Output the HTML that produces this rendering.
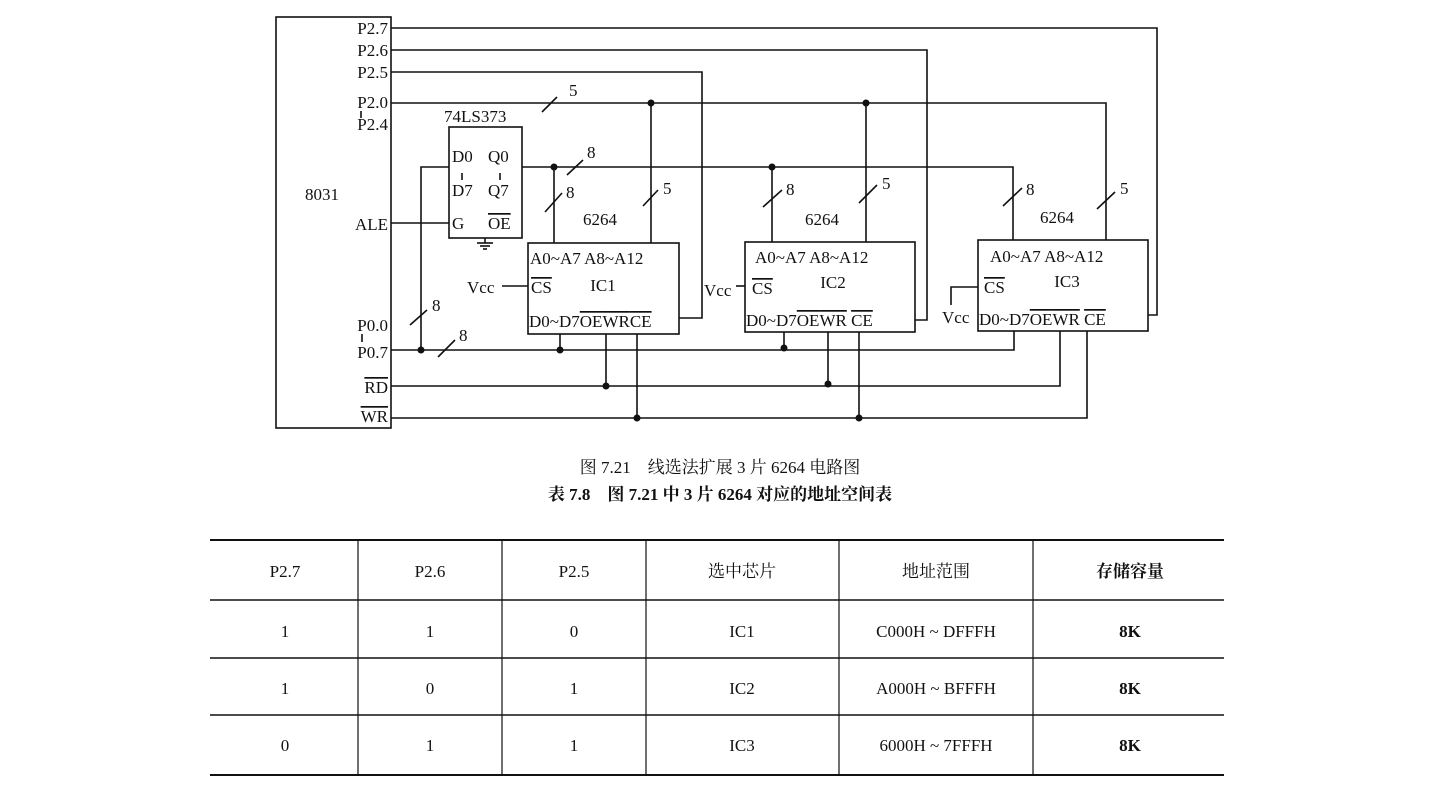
<!DOCTYPE html>
<html><head><meta charset="utf-8"><style>
html,body{margin:0;padding:0;background:#fff;width:1435px;height:795px;overflow:hidden}
svg{display:block}
text{font-family:"Liberation Serif","Noto Serif CJK SC",serif;fill:#111}
.t{font-size:17px}
.o{text-decoration:overline}
</style></head><body>
<svg width="1435" height="795" viewBox="0 0 1435 795" xmlns="http://www.w3.org/2000/svg">
<g stroke="#111" stroke-width="1.6" fill="none">
<rect x="276" y="17" width="115" height="411"/>
<rect x="449" y="127" width="73" height="111"/>
<rect x="528" y="243" width="151" height="91"/>
<rect x="745" y="242" width="170" height="90"/>
<rect x="978" y="240" width="170" height="91"/>
<polyline points="391,28 1157,28 1157,315 1148,315"/>
<polyline points="391,50 927,50 927,320 915,320"/>
<polyline points="391,72 702,72 702,318 679,318"/>
<polyline points="391,103 1106,103 1106,240"/>
<line x1="651" y1="103" x2="651" y2="243"/>
<line x1="866" y1="103" x2="866" y2="242"/>
<polyline points="522,167 1013,167 1013,240"/>
<line x1="554" y1="167" x2="554" y2="243"/>
<line x1="772" y1="167" x2="772" y2="242"/>
<polyline points="449,167 421,167 421,350"/>
<line x1="391" y1="223" x2="449" y2="223"/>
<line x1="485" y1="238" x2="485" y2="243"/>
<line x1="477" y1="243" x2="493" y2="243"/>
<line x1="480" y1="246" x2="490" y2="246"/>
<line x1="483" y1="249" x2="487" y2="249"/>
<polyline points="391,350 1014,350 1014,331"/>
<line x1="560" y1="334" x2="560" y2="350"/>
<line x1="784" y1="332" x2="784" y2="350"/>
<polyline points="391,386 1060,386 1060,331"/>
<line x1="606" y1="334" x2="606" y2="386"/>
<line x1="828" y1="332" x2="828" y2="386"/>
<polyline points="391,418 1087,418 1087,331"/>
<line x1="637" y1="334" x2="637" y2="418"/>
<line x1="859" y1="332" x2="859" y2="418"/>
<line x1="502" y1="286" x2="528" y2="286"/>
<line x1="736" y1="286" x2="745" y2="286"/>
<polyline points="978,287 951,287 951,305"/>
<line x1="542" y1="112" x2="557" y2="97"/>
<line x1="567" y1="175" x2="583" y2="160"/>
<line x1="545" y1="212" x2="562" y2="193"/>
<line x1="643" y1="206" x2="658" y2="190"/>
<line x1="410" y1="325" x2="427" y2="310"/>
<line x1="438" y1="357" x2="455" y2="340"/>
<line x1="763" y1="207" x2="782" y2="190"/>
<line x1="859" y1="203" x2="877" y2="185"/>
<line x1="1003" y1="206" x2="1022" y2="188"/>
<line x1="1097" y1="209" x2="1115" y2="192"/>
<line x1="361" y1="111" x2="361" y2="118"/>
<line x1="362" y1="334" x2="362" y2="342"/>
<line x1="462" y1="173" x2="462" y2="180"/>
<line x1="500" y1="173" x2="500" y2="180"/>
</g>
<g fill="#111">
<circle cx="651" cy="103" r="3.5"/><circle cx="866" cy="103" r="3.5"/>
<circle cx="554" cy="167" r="3.5"/><circle cx="772" cy="167" r="3.5"/>
<circle cx="421" cy="350" r="3.5"/><circle cx="560" cy="350" r="3.5"/><circle cx="784" cy="348" r="3.5"/>
<circle cx="606" cy="386" r="3.5"/><circle cx="828" cy="384" r="3.5"/>
<circle cx="637" cy="418" r="3.5"/><circle cx="859" cy="418" r="3.5"/>
</g>
<g class="t">
<text x="388" y="34" text-anchor="end">P2.7</text>
<text x="388" y="56" text-anchor="end">P2.6</text>
<text x="388" y="78" text-anchor="end">P2.5</text>
<text x="388" y="108" text-anchor="end">P2.0</text>
<text x="388" y="130" text-anchor="end">P2.4</text>
<text x="305" y="200">8031</text>
<text x="388" y="230" text-anchor="end">ALE</text>
<text x="388" y="331" text-anchor="end">P0.0</text>
<text x="388" y="358" text-anchor="end">P0.7</text>
<text x="388" y="393" text-anchor="end" class="o">RD</text>
<text x="388" y="422" text-anchor="end" class="o">WR</text>
<text x="444" y="122">74LS373</text>
<text x="452" y="162">D0</text><text x="488" y="162">Q0</text>
<text x="452" y="196">D7</text><text x="488" y="196">Q7</text>
<text x="452" y="229">G</text><text x="488" y="229" class="o">OE</text>
<text x="569" y="96">5</text>
<text x="587" y="158">8</text>
<text x="566" y="198">8</text>
<text x="663" y="194">5</text>
<text x="432" y="311">8</text>
<text x="459" y="341">8</text>
<text x="786" y="195">8</text>
<text x="882" y="189">5</text>
<text x="1026" y="195">8</text>
<text x="1120" y="194">5</text>
<text x="600" y="225" text-anchor="middle">6264</text>
<text x="822" y="225" text-anchor="middle">6264</text>
<text x="1057" y="223" text-anchor="middle">6264</text>
<text x="530" y="264">A0~A7 A8~A12</text>
<text x="603" y="291" text-anchor="middle">IC1</text>
<text x="531" y="293" class="o">CS</text>
<text x="529" y="327">D0~D7<tspan class="o">OE</tspan><tspan class="o">WR</tspan><tspan class="o">CE</tspan></text>
<text x="467" y="293">Vcc</text>
<text x="755" y="263">A0~A7 A8~A12</text>
<text x="833" y="288" text-anchor="middle">IC2</text>
<text x="752" y="294" class="o">CS</text>
<text x="746" y="326">D0~D7<tspan class="o">OE</tspan><tspan class="o">WR</tspan> <tspan class="o">CE</tspan></text>
<text x="704" y="296">Vcc</text>
<text x="990" y="262">A0~A7 A8~A12</text>
<text x="1067" y="287" text-anchor="middle">IC3</text>
<text x="984" y="293" class="o">CS</text>
<text x="979" y="325">D0~D7<tspan class="o">OE</tspan><tspan class="o">WR</tspan> <tspan class="o">CE</tspan></text>
<text x="942" y="323">Vcc</text>
</g>
<text x="720" y="473" text-anchor="middle" style="font-size:17px">图 7.21　线选法扩展 3 片 6264 电路图</text>
<text x="720" y="500" text-anchor="middle" style="font-size:17px;font-weight:bold">表 7.8　图 7.21 中 3 片 6264 对应的地址空间表</text>
<g stroke="#111" fill="none">
<line x1="210" y1="540" x2="1224" y2="540" stroke-width="2"/>
<line x1="210" y1="600" x2="1224" y2="600" stroke-width="1.5"/>
<line x1="210" y1="658" x2="1224" y2="658" stroke-width="1.5"/>
<line x1="210" y1="715" x2="1224" y2="715" stroke-width="1.5"/>
<line x1="210" y1="775" x2="1224" y2="775" stroke-width="2"/>
<g stroke-width="1.2">
<line x1="358" y1="540" x2="358" y2="775"/>
<line x1="502" y1="540" x2="502" y2="775"/>
<line x1="646" y1="540" x2="646" y2="775"/>
<line x1="839" y1="540" x2="839" y2="775"/>
<line x1="1033" y1="540" x2="1033" y2="775"/>
</g>
</g>
<g style="font-size:17px" text-anchor="middle">
<text x="285" y="577">P2.7</text><text x="430" y="577">P2.6</text><text x="574" y="577">P2.5</text>
<text x="742" y="577">选中芯片</text><text x="936" y="577">地址范围</text><text x="1130" y="577" font-weight="bold">存储容量</text>
<text x="285" y="637">1</text><text x="430" y="637">1</text><text x="574" y="637">0</text><text x="742" y="637">IC1</text><text x="936" y="637">C000H ~ DFFFH</text><text x="1130" y="637" font-weight="bold">8K</text>
<text x="285" y="694">1</text><text x="430" y="694">0</text><text x="574" y="694">1</text><text x="742" y="694">IC2</text><text x="936" y="694">A000H ~ BFFFH</text><text x="1130" y="694" font-weight="bold">8K</text>
<text x="285" y="751">0</text><text x="430" y="751">1</text><text x="574" y="751">1</text><text x="742" y="751">IC3</text><text x="936" y="751">6000H ~ 7FFFH</text><text x="1130" y="751" font-weight="bold">8K</text>
</g>
</svg>
</body></html>
